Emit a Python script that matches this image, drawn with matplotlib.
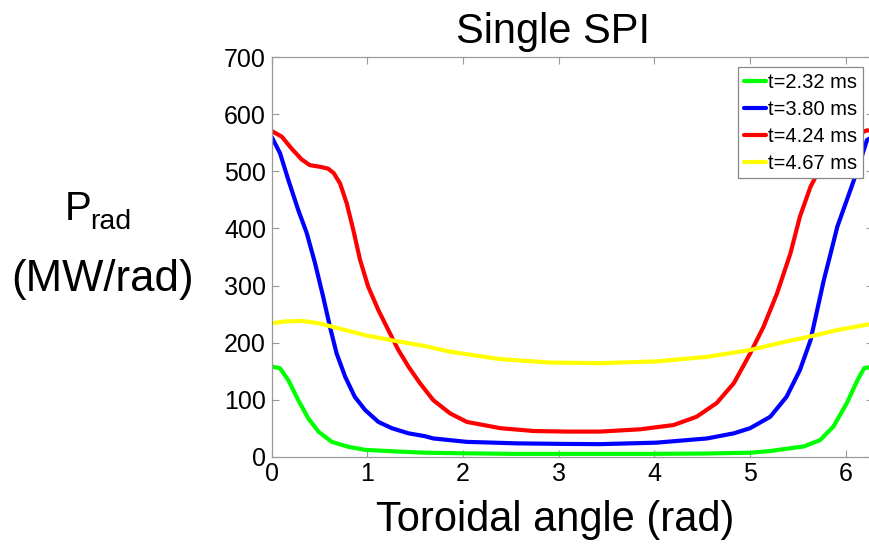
import matplotlib
matplotlib.use("Agg")
import matplotlib.pyplot as plt

plt.rcParams['font.family'] = ['Liberation Sans', 'DejaVu Sans']

# Data
x_green = [0.0, 0.089, 0.176, 0.28, 0.385, 0.49, 0.63, 0.80, 0.977, 1.325, 1.60, 2.0, 2.5,
           3.0, 3.5, 4.0, 4.5, 5.0, 5.21, 5.56, 5.73, 5.87, 6.01, 6.12, 6.19, 6.283]
y_green = [158, 155, 134, 99, 67, 44, 26, 17.5, 12, 9, 7, 6, 5,
           5, 5, 5, 5.5, 7, 10, 18, 29, 53, 94, 134, 155, 158]

x_blue = [0.0, 0.089, 0.176, 0.28, 0.368, 0.455, 0.54, 0.61, 0.68, 0.77, 0.87, 0.977, 1.116,
          1.256, 1.43, 1.60, 1.69, 2.04, 2.56, 3.0, 3.43, 4.02, 4.55, 4.83, 5.0, 5.21, 5.38,
          5.52, 5.63, 5.70, 5.77, 5.84, 5.91, 6.01, 6.12, 6.22, 6.283]
y_blue = [561, 532, 485, 432, 392, 339, 280, 228, 181, 140, 105, 82, 61,
          50, 41, 36, 32, 26, 23.4, 22.5, 22, 24.6, 32, 41, 50, 70, 105,
          152, 204, 257, 310, 356, 403, 450, 502, 555, 561]

x_red = [0.0, 0.107, 0.21, 0.315, 0.40, 0.51, 0.59, 0.65, 0.716, 0.786, 0.855, 0.925, 1.01,
         1.116, 1.22, 1.325, 1.43, 1.55, 1.69, 1.865, 2.04, 2.39, 2.74, 3.1, 3.43, 3.85,
         4.2, 4.44, 4.65, 4.83, 5.0, 5.14, 5.28, 5.42, 5.52, 5.63, 5.75, 5.9, 6.0, 6.11,
         6.22, 6.283]
y_red = [571, 561, 540, 521, 511, 508, 505, 497, 479, 444, 397, 345, 298,
         257, 222, 187, 158, 129, 99, 76, 61, 50, 45, 44, 44, 48,
         55.5, 70, 94, 129, 181, 228, 286, 356, 421, 473, 512, 540, 553, 564,
         572, 571]

x_yellow = [0.0, 0.14, 0.315, 0.49, 0.70, 0.977, 1.256, 1.60, 1.865, 2.39, 2.91, 3.43,
            4.02, 4.55, 5.0, 5.38, 5.66, 5.91, 6.24, 6.283]
y_yellow = [234, 237, 238, 234, 225, 213, 204, 194, 184, 171, 165, 164,
            167, 175, 187, 202, 212, 222, 232, 234]

labels = ['t=2.32 ms', 't=3.80 ms', 't=4.24 ms', 't=4.67 ms']
colors = ['#00ff00', '#0000ff', '#ff0000', '#ffff00']
xticks = [0, 1, 2, 3, 4, 5, 6]
yticks = [0, 100, 200, 300, 400, 500, 600, 700]

W, H = 869, 545
fig = plt.figure(figsize=(W / 100, H / 100), dpi=100)
ax = fig.add_axes([271.5 / W, (H - 456.7) / H, (873 - 271.5) / W, (456.7 - 57.3) / H])

for xs, ys, c, lab in zip([x_green, x_blue, x_red, x_yellow],
                          [y_green, y_blue, y_red, y_yellow], colors, labels):
    ax.plot(xs, ys, color=c, lw=3.0, label=lab, solid_joinstyle='round',
            solid_capstyle='round')

ax.set_xlim(0, 6.283)
ax.set_ylim(0, 700)
ax.set_xticks(xticks)
ax.set_yticks(yticks)
ax.tick_params(direction='in', length=5, width=0.8, colors='#999999',
               labelcolor='black', labelsize=18, top=True, right=True, pad=4)
for s in ax.spines.values():
    s.set_color('#999999')
    s.set_linewidth(0.9)

leg = fig.legend(loc='upper left', bbox_to_anchor=(738 / W, (H - 67) / H),
                 fontsize=14.5, frameon=True, fancybox=False, framealpha=1,
                 edgecolor='#888888', handlelength=1.1, handletextpad=0.1,
                 labelspacing=0.4, borderpad=0.28, borderaxespad=0)
leg.get_frame().set_linewidth(0.9)

fig.text(553 / W, (H - 32) / H, 'Single SPI', fontsize=30, ha='center', va='center')
fig.text(555 / W, (H - 520) / H, 'Toroidal angle (rad)', fontsize=30, ha='center', va='center')
fig.text(65 / W, (H - 220) / H, 'P', fontsize=29, ha='left', va='baseline')
fig.text(90 / W, (H - 229) / H, 'rad', fontsize=20.5, ha='left', va='baseline')
fig.text(103 / W, (H - 291) / H, '(MW/rad)', fontsize=31.5, ha='center', va='baseline')

fig.savefig('out.png', dpi=100)
